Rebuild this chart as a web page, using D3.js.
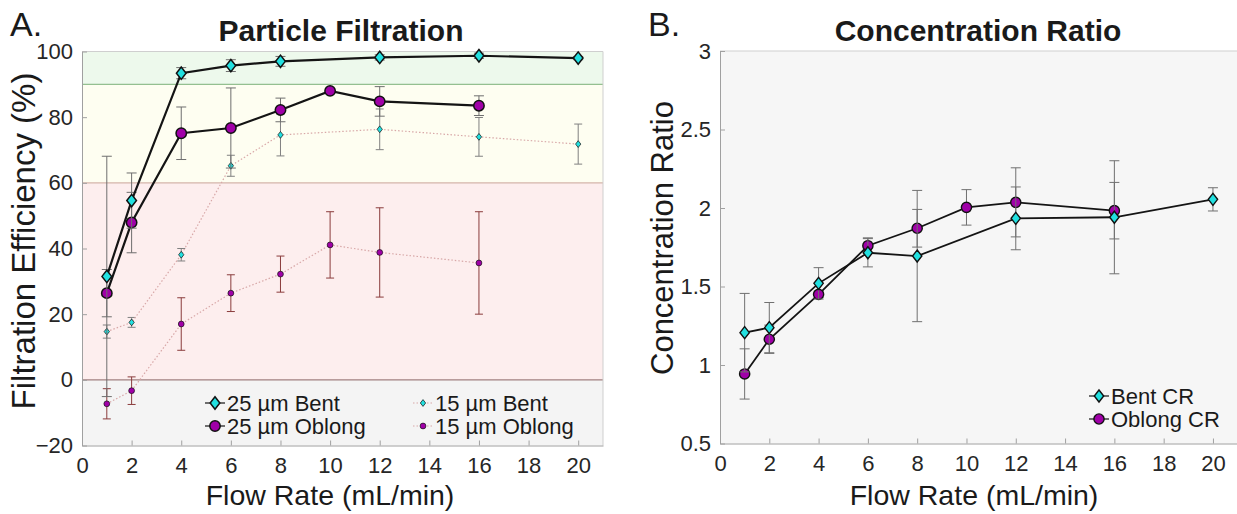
<!DOCTYPE html>
<html>
<head>
<meta charset="utf-8">
<title>Particle Filtration / Concentration Ratio</title>
<script src="https://cdn.jsdelivr.net/npm/d3@7"></script>
<style>
  body { margin: 0; background: #fff; }
  svg text { font-family: "Liberation Sans", Arial, sans-serif; fill: #1a1a1a; }
  .axis path, .axis line { stroke: #a0a0a0; }
  .axis text { font-size: 22px; fill: #262626; }
</style>
</head>
<body>
<div id="chart"></div>
<script>
// ---- data ----
var flowTicks = [0, 2, 4, 6, 8, 10, 12, 14, 16, 18, 20];
var effTicks = [-20, 0, 20, 40, 60, 80, 100];
var crTicks = [0.5, 1, 1.5, 2, 2.5, 3];

// filtration bands (%)
var bandEdges = [-20, 0, 60, 90, 100];

// panel A
var flowBent25 = [1, 2, 4, 6, 8, 12, 16, 20];
var effBent25 = [31.5, 54.6, 93.4, 95.7, 97.0, 98.2, 98.7, 98.0];
var errBent25 = [36.6, 8.4, 1.7, 1.8, 1.5, 0.8, 0.8, 0.5];

var flowOblong25 = [1, 2, 4, 6, 8, 10, 12, 16];
var effOblong25 = [26.4, 47.9, 75.1, 76.7, 82.2, 88.0, 84.8, 83.5];
var errOblong25 = [7.2, 9.2, 8.0, 12.2, 3.6, 0.8, 4.5, 3.0];

var flowBent15 = [1, 2, 4, 6, 8, 12, 16, 20];
var effBent15 = [14.7, 17.5, 38.1, 65.2, 74.6, 76.3, 74.0, 71.8];
var errBent15 = [2.0, 1.5, 1.9, 3.2, 6.4, 6.2, 5.9, 6.1];

var flowOblong15 = [1, 2, 4, 6, 8, 10, 12, 16];
var effOblong15 = [-7.3, -3.3, 17.0, 26.4, 32.2, 41.1, 38.8, 35.6];
var errOblong15 = [4.6, 4.2, 8.0, 5.6, 5.5, 10.1, 13.6, 15.6];

// panel B
var flowBentCR = [1, 2, 4, 6, 8, 12, 16, 20];
var bentCR = [1.206, 1.238, 1.52, 1.715, 1.694, 1.934, 1.941, 2.055];
var errBentCR = [0.25, 0.16, 0.10, 0.09, 0.418, 0.20, 0.36, 0.074];

var flowOblongCR = [1, 2, 4, 6, 8, 10, 12, 16];
var oblongCR = [0.943, 1.164, 1.45, 1.76, 1.871, 2.004, 2.036, 1.983];
var errOblongCR = [0.16, 0.09, 0.02, 0.05, 0.12, 0.113, 0.22, 0.18];

// ---- drawing ----
var W = 1237, H = 514;
var cyan = "#22e0e0", purple = "#a000a8";

var svg = d3.select("#chart").append("svg")
  .attr("width", W).attr("height", H);

function zip(xs, ys, es) {
  return xs.map(function (x, i) { return {x: x, y: ys[i], e: es[i]}; });
}

function diamond(g, w, h) {
  return g.append("path").attr("d", "M0," + (-h) + "L" + w + ",0L0," + h + "L" + (-w) + ",0Z");
}

function marker(g, opt) {
  var shape;
  if (opt.shape === "diamond") shape = diamond(g, opt.size * 0.78, opt.size);
  else shape = g.append("circle").attr("r", opt.size);
  return shape.attr("fill", opt.fill).attr("stroke", "#111").attr("stroke-width", opt.markerStroke);
}

function drawSeries(g, x, y, pts, opt) {
  var s = g.append("g");
  // error bars
  var eb = s.selectAll(".eb").data(pts).enter().append("g")
    .attr("stroke", opt.errColor).attr("stroke-width", 1).attr("fill", "none");
  eb.append("line")
    .attr("x1", function (d) { return x(d.x); }).attr("x2", function (d) { return x(d.x); })
    .attr("y1", function (d) { return y(d.y - d.e); }).attr("y2", function (d) { return y(d.y + d.e); });
  [-1, 1].forEach(function (sgn) {
    eb.append("line")
      .attr("x1", function (d) { return x(d.x) - opt.cap; }).attr("x2", function (d) { return x(d.x) + opt.cap; })
      .attr("y1", function (d) { return y(d.y + sgn * d.e); }).attr("y2", function (d) { return y(d.y + sgn * d.e); });
  });
  // line
  s.append("path").datum(pts)
    .attr("fill", "none")
    .attr("stroke", opt.lineColor)
    .attr("stroke-width", opt.lineWidth)
    .attr("stroke-dasharray", opt.dash || null)
    .attr("d", d3.line().x(function (d) { return x(d.x); }).y(function (d) { return y(d.y); }));
  // markers
  pts.forEach(function (d) {
    marker(s.append("g").attr("transform", "translate(" + x(d.x) + "," + y(d.y) + ")"), opt);
  });
}

function legendItem(g, lx, ly, label, opt) {
  var it = g.append("g").attr("transform", "translate(" + lx + "," + ly + ")");
  it.append("line").attr("x1", -10).attr("x2", 10).attr("y1", 0).attr("y2", 0)
    .attr("stroke", opt.lineColor).attr("stroke-width", opt.legendLine || opt.lineWidth)
    .attr("stroke-dasharray", opt.dash || null);
  marker(it, opt);
  it.append("text").attr("x", 12).attr("y", 8).attr("font-size", opt.fontSize).text(label);
}

// ---------- Panel A ----------
var xA = d3.scaleLinear().domain([0, 21]).range([82, 603]);
var yA = d3.scaleLinear().domain([-20, 100]).range([445.5, 51.5]);
var bandFill = ["#f4f4f4", "#fdeeee", "#fefef1", "#edf9ec"];
var bandLine = ["#a08080", "#d4b4aa", "#94c090"];

var gA = svg.append("g");
bandEdges.slice(0, -1).forEach(function (lo, i) {
  var hi = bandEdges[i + 1];
  gA.append("rect").attr("x", xA(0)).attr("width", xA(21) - xA(0))
    .attr("y", yA(hi)).attr("height", yA(lo) - yA(hi)).attr("fill", bandFill[i]);
});
bandEdges.slice(1, -1).forEach(function (v, i) {
  gA.append("line").attr("x1", xA(0)).attr("x2", xA(21))
    .attr("y1", yA(v)).attr("y2", yA(v)).attr("stroke", bandLine[i]).attr("stroke-width", 1.2);
});
gA.append("path").attr("fill", "none").attr("stroke", "#cfcfcf")
  .attr("d", "M" + xA(0) + "," + yA(100) + "H" + xA(21) + "V" + yA(-20));

gA.append("g").attr("class", "axis").attr("transform", "translate(0," + yA(-20) + ")")
  .call(d3.axisBottom(xA).tickValues(flowTicks).tickSizeInner(-5).tickSizeOuter(0).tickPadding(12));
gA.append("g").attr("class", "axis").attr("transform", "translate(" + xA(0) + ",0)")
  .call(d3.axisLeft(yA).tickValues(effTicks).tickSizeInner(-5).tickSizeOuter(0).tickPadding(9));

var optB15 = {shape: "diamond", size: 3.4, fill: cyan, markerStroke: 0.7, lineColor: "#d8a8a8",
  lineWidth: 1.2, dash: "1.5,2", errColor: "#808080", cap: 4, fontSize: 22};
var optO15 = {shape: "circle", size: 2.9, fill: purple, markerStroke: 0.7, lineColor: "#d8a8a8",
  lineWidth: 1.2, dash: "1.5,2", errColor: "#8a3c3c", cap: 4, fontSize: 22};
var optB25 = {shape: "diamond", size: 6.2, fill: cyan, markerStroke: 1.5, lineColor: "#141414",
  lineWidth: 2.2, errColor: "#6e6e6e", cap: 5, fontSize: 22};
var optO25 = {shape: "circle", size: 5.2, fill: purple, markerStroke: 1.5, lineColor: "#141414",
  lineWidth: 2.2, errColor: "#6e6e6e", cap: 5, fontSize: 22};

drawSeries(gA, xA, yA, zip(flowBent15, effBent15, errBent15), optB15);
drawSeries(gA, xA, yA, zip(flowOblong15, effOblong15, errOblong15), optO15);
drawSeries(gA, xA, yA, zip(flowOblong25, effOblong25, errOblong25), optO25);
drawSeries(gA, xA, yA, zip(flowBent25, effBent25, errBent25), optB25);

legendItem(gA, 215, 403, "25 µm Bent", Object.assign({}, optB25, {legendLine: 1.2}));
legendItem(gA, 215, 426, "25 µm Oblong", Object.assign({}, optO25, {legendLine: 1.2}));
legendItem(gA, 423, 403, "15 µm Bent", optB15);
legendItem(gA, 423, 426, "15 µm Oblong", optO15);

svg.append("text").attr("x", 341).attr("y", 41).attr("text-anchor", "middle")
  .attr("font-size", 30).attr("font-weight", "bold").text("Particle Filtration");
svg.append("text").attr("x", 10).attr("y", 36).attr("font-size", 34).text("A.");
svg.append("text").attr("x", 330).attr("y", 505).attr("text-anchor", "middle")
  .attr("font-size", 28.5).text("Flow Rate (mL/min)");
svg.append("text").attr("transform", "translate(35,241) rotate(-90)").attr("text-anchor", "middle")
  .attr("font-size", 33).text("Filtration Efficiency (%)");

// ---------- Panel B ----------
var xB = d3.scaleLinear().domain([0, 21]).range([720, 1237.6]);
var yB = d3.scaleLinear().domain([0.5, 3]).range([443.5, 51]);
var gB = svg.append("g");
gB.append("rect").attr("x", xB(0)).attr("y", yB(3)).attr("width", xB(21) - xB(0))
  .attr("height", yB(0.5) - yB(3)).attr("fill", "#f6f6f6");
gB.append("line").attr("x1", xB(0)).attr("x2", xB(21)).attr("y1", yB(3)).attr("y2", yB(3))
  .attr("stroke", "#cfcfcf");
gB.append("g").attr("class", "axis").attr("transform", "translate(0," + yB(0.5) + ")")
  .call(d3.axisBottom(xB).tickValues(flowTicks).tickSizeInner(-5).tickSizeOuter(0).tickPadding(12));
gB.append("g").attr("class", "axis").attr("transform", "translate(" + xB(0) + ",0)")
  .call(d3.axisLeft(yB).tickValues(crTicks).tickFormat(d3.format("")).tickSizeInner(-5).tickSizeOuter(0).tickPadding(9));

var optBCR = {shape: "diamond", size: 6, fill: cyan, markerStroke: 1.4, lineColor: "#141414",
  lineWidth: 1.8, errColor: "#707070", cap: 5, fontSize: 22};
var optOCR = {shape: "circle", size: 5.1, fill: purple, markerStroke: 1.4, lineColor: "#141414",
  lineWidth: 1.8, errColor: "#707070", cap: 5, fontSize: 22};

drawSeries(gB, xB, yB, zip(flowOblongCR, oblongCR, errOblongCR), optOCR);
drawSeries(gB, xB, yB, zip(flowBentCR, bentCR, errBentCR), optBCR);

legendItem(gB, 1099, 396, "Bent CR", Object.assign({}, optBCR, {legendLine: 1.2}));
legendItem(gB, 1099, 419, "Oblong CR", Object.assign({}, optOCR, {legendLine: 1.2}));

svg.append("text").attr("x", 978).attr("y", 41).attr("text-anchor", "middle")
  .attr("font-size", 30).attr("font-weight", "bold").text("Concentration Ratio");
svg.append("text").attr("x", 648).attr("y", 36).attr("font-size", 34).text("B.");
svg.append("text").attr("x", 974).attr("y", 505).attr("text-anchor", "middle")
  .attr("font-size", 28.5).text("Flow Rate (mL/min)");
svg.append("text").attr("transform", "translate(673,238) rotate(-90)").attr("text-anchor", "middle")
  .attr("font-size", 31).text("Concentration Ratio");
</script>
</body>
</html>
